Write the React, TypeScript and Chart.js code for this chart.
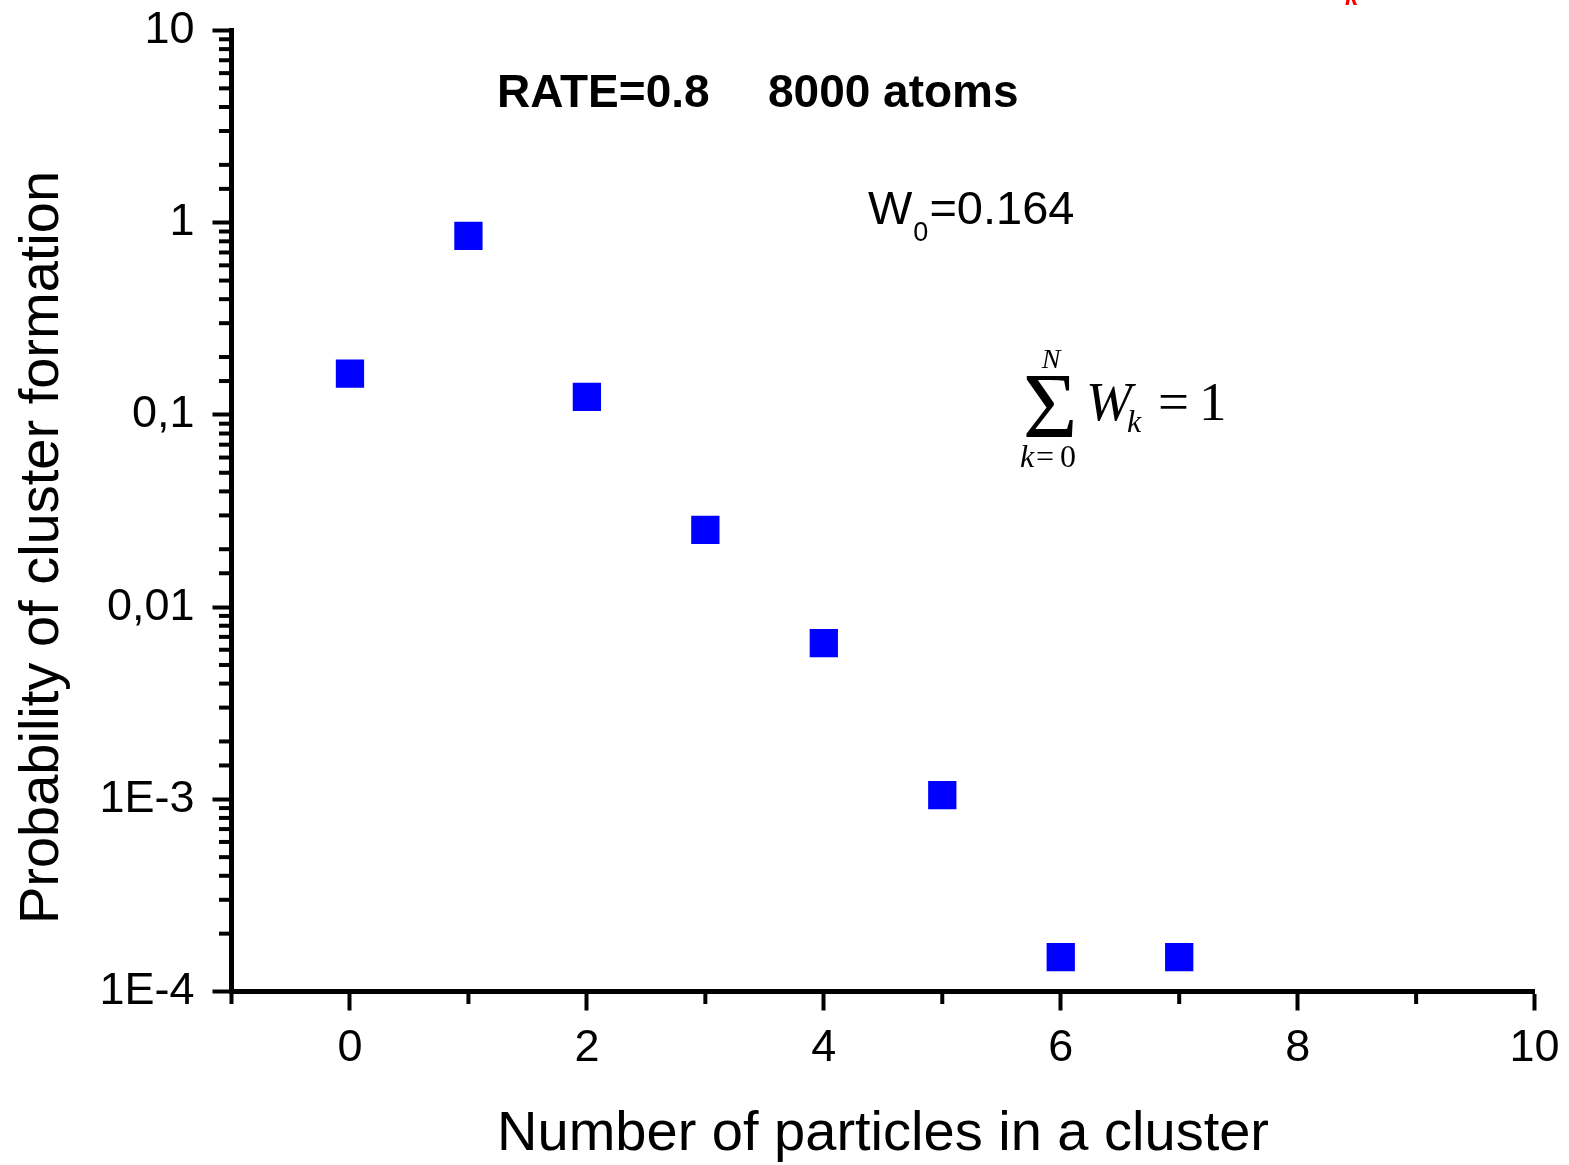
import React, { useEffect, useRef } from 'react';
import { Chart, registerables } from 'chart.js';

Chart.register(...registerables);

// ---- data ----
const clusterSizes: number[] = [0, 1, 2, 3, 4, 5, 6, 7];
const probabilities: number[] = [0.164, 0.853, 0.124, 0.0252, 0.0065, 0.00105, 0.000151, 0.000151];
const xLabelValues: number[] = [0, 2, 4, 6, 8, 10];
const yLabelValues: number[] = [10, 1, 0.1, 0.01, 0.001, 0.0001];
const yLabelTexts: string[] = ['10', '1', '0,1', '0,01', '1E-3', '1E-4'];

const X_TITLE = 'Number of particles in a cluster';
const Y_TITLE = 'Probability of cluster formation';

const SANS = "'Liberation Sans', Arial, sans-serif";
const SERIF = "'Liberation Serif', 'Times New Roman', serif";

const isPow10 = (v: number) => Math.abs(Math.log10(v) - Math.round(Math.log10(v))) < 1e-9;

const decorPlugin = {
  id: 'decor',
  afterDraw(chart: any) {
    const { ctx, chartArea, scales } = chart;
    const xs = scales.x;
    const ys = scales.y;
    ctx.save();
    ctx.strokeStyle = '#000';
    ctx.lineWidth = 4;
    ctx.lineCap = 'butt';
    // minor ticks on x
    const xBase = chartArea.bottom + 2.5;
    xs.ticks.forEach((t: any) => {
      if (xLabelValues.indexOf(t.value) >= 0) return;
      const px = xs.getPixelForValue(t.value);
      ctx.beginPath();
      ctx.moveTo(px, xBase);
      ctx.lineTo(px, xBase + 10);
      ctx.stroke();
    });
    // minor ticks on y
    const yBase = chartArea.left - 2.5;
    ys.ticks.forEach((t: any) => {
      if (isPow10(t.value)) return;
      const py = ys.getPixelForValue(t.value);
      ctx.beginPath();
      ctx.moveTo(yBase, py);
      ctx.lineTo(yBase - 10, py);
      ctx.stroke();
    });

    ctx.fillStyle = '#000';
    // axis titles
    ctx.font = `56px ${SANS}`;
    ctx.textAlign = 'center';
    ctx.textBaseline = 'alphabetic';
    ctx.fillText(X_TITLE, (chartArea.left + chartArea.right) / 2, 1150);
    ctx.save();
    ctx.translate(58, 547.5);
    ctx.rotate(-Math.PI / 2);
    ctx.fillText(Y_TITLE, 0, 0);
    ctx.restore();

    // header
    ctx.textAlign = 'left';
    ctx.font = `bold 46px ${SANS}`;
    ctx.fillText('RATE=0.8', 497, 107);
    ctx.fillText('8000 atoms', 768, 107);

    // W0 = 0.164
    ctx.font = `47px ${SANS}`;
    ctx.fillText('W', 868, 224);
    const wW = ctx.measureText('W').width;
    ctx.font = `27px ${SANS}`;
    ctx.fillText('0', 868 + wW + 1, 241);
    const w0 = ctx.measureText('0').width;
    ctx.font = `47px ${SANS}`;
    ctx.fillText('=0.164', 868 + wW + w0 + 2, 224);

    // sum formula
    ctx.textAlign = 'center';
    ctx.font = `94px ${SERIF}`;
    ctx.fillText('\u03A3', 1050, 437);
    ctx.font = `italic 28px ${SERIF}`;
    ctx.fillText('N', 1051, 368);
    ctx.textAlign = 'left';
    ctx.font = `italic 32px ${SERIF}`;
    ctx.fillText('k', 1020, 467);
    ctx.font = `32px ${SERIF}`;
    ctx.fillText('=', 1036, 467);
    ctx.fillText('0', 1060, 467);
    ctx.font = `italic 55px ${SERIF}`;
    ctx.fillText('W', 1086, 420);
    ctx.font = `italic 32px ${SERIF}`;
    ctx.fillText('k', 1127, 432);
    ctx.font = `55px ${SERIF}`;
    ctx.fillText('=', 1158, 420);
    ctx.fillText('1', 1199, 420);

    // clipped red fragment at top
    ctx.fillStyle = '#ff0000';
    ctx.font = `bold italic 24px ${SANS}`;
    ctx.fillText('k', 1345, 5);
    ctx.restore();
  },
};

export default function App() {
  const canvasRef = useRef<HTMLCanvasElement | null>(null);

  useEffect(() => {
    const canvas = canvasRef.current;
    if (!canvas) return;
    Chart.defaults.font.family = SANS;
    const chart = new Chart(canvas, {
      type: 'scatter',
      data: {
        datasets: [
          {
            data: clusterSizes.map((x, i) => ({ x, y: probabilities[i] })),
            pointStyle: 'rect',
            pointRadius: 20,
            pointHoverRadius: 20,
            backgroundColor: '#0000ff',
            borderWidth: 0,
            showLine: false,
          },
        ],
      },
      options: {
        responsive: false,
        animation: false,
        devicePixelRatio: 1,
        events: [],
        layout: { padding: { top: 30.5, right: 34.4, left: 0, bottom: 0 } },
        plugins: { legend: { display: false }, tooltip: { enabled: false } },
        scales: {
          x: {
            type: 'linear',
            min: -1,
            max: 10,
            afterFit: (s: any) => {
              s.height = 173.5;
              s.paddingLeft = 0;
              s.paddingRight = 0;
            },
            ticks: {
              stepSize: 1,
              autoSkip: false,
              maxRotation: 0,
              padding: 11,
              color: '#000',
              font: { size: 45 },
              callback: (v: any) => (xLabelValues.indexOf(Number(v)) >= 0 ? String(v) : ''),
            },
            grid: {
              drawOnChartArea: false,
              drawTicks: true,
              tickLength: 19,
              tickWidth: 4,
              tickColor: (c: any) =>
                c.tick && xLabelValues.indexOf(c.tick.value) >= 0 ? '#000' : 'rgba(0,0,0,0)',
            },
            border: { display: true, width: 5, color: '#000' },
          },
          y: {
            type: 'logarithmic',
            min: 0.0001,
            max: 10,
            afterFit: (s: any) => {
              s.width = 231.5;
              s.paddingTop = 0;
              s.paddingBottom = 0;
            },
            ticks: {
              autoSkip: false,
              padding: 18,
              color: '#000',
              font: { size: 45 },
              callback: (v: any) => {
                const n = Number(v);
                const idx = yLabelValues.findIndex((y) => Math.abs(Math.log10(y) - Math.log10(n)) < 1e-9);
                return idx >= 0 ? yLabelTexts[idx] : '';
              },
            },
            grid: {
              drawOnChartArea: false,
              drawTicks: true,
              tickLength: 19,
              tickWidth: 4,
              tickColor: (c: any) => (c.tick && isPow10(c.tick.value) ? '#000' : 'rgba(0,0,0,0)'),
            },
            border: { display: true, width: 5, color: '#000' },
          },
        },
      },
      plugins: [decorPlugin],
    } as any);
    return () => chart.destroy();
  }, []);

  return (
    <div style={{ position: 'fixed', left: 0, top: 0, width: 1569, height: 1165, background: '#fff' }}>
      <canvas ref={canvasRef} width={1569} height={1165} style={{ display: 'block' }} />
    </div>
  );
}
